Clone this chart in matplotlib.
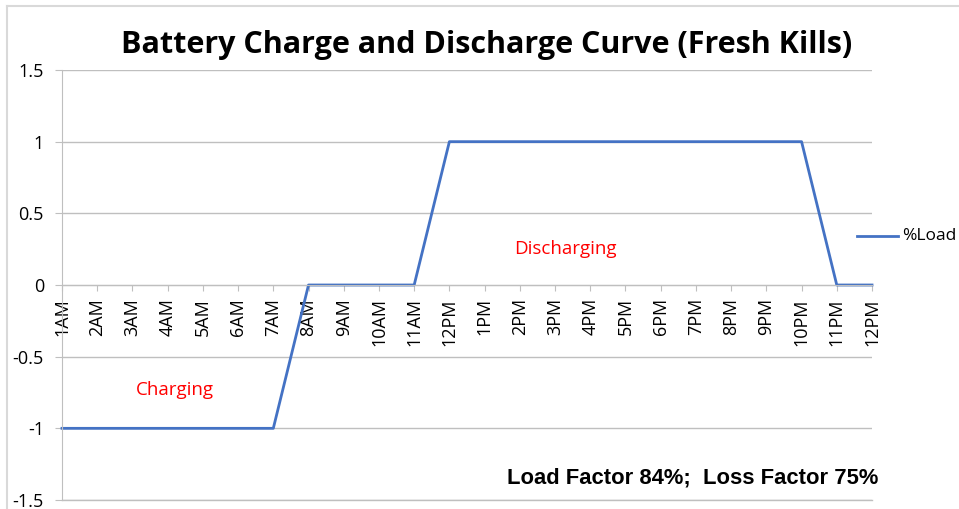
import matplotlib.pyplot as plt
from matplotlib.lines import Line2D
import numpy as np

# %% Dados
horas = ['1AM', '2AM', '3AM', '4AM', '5AM', '6AM', '7AM', '8AM', '9AM', '10AM', '11AM', '12PM',
         '1PM', '2PM', '3PM', '4PM', '5PM', '6PM', '7PM', '8PM', '9PM', '10PM', '11PM', '12PM']
carga = [-1, -1, -1, -1, -1, -1, -1, 0, 0, 0, 0, 1,
         1, 1, 1, 1, 1, 1, 1, 1, 1, 1, 0, 0]
y_ticks = [-1.5, -1, -0.5, 0, 0.5, 1, 1.5]
y_labels = ['-1.5', '-1', '-0.5', '0', '0.5', '1', '1.5']

plt.rcParams['font.family'] = ['Open Sans', 'DejaVu Sans']
cinza = '#BFBFBF'

# %% Figura
fig = plt.figure(figsize=(9.59, 5.09), dpi=100)
ax = fig.add_axes([62/959, 1 - 500/509, 810/959, 430/509])

x = np.arange(len(horas))
ax.plot(x, carga, color='#4472C4', linewidth=2, label='%Load', clip_on=False)

ax.set_xlim(0, len(horas) - 1)
ax.set_ylim(-1.5, 1.5)
ax.set_yticks(y_ticks)
ax.set_yticklabels(y_labels)
ax.set_xticks(x)
ax.set_xticklabels(horas)

ax.grid(axis='y', color=cinza, linewidth=1)
ax.set_axisbelow(True)
for s in ['top', 'right']:
    ax.spines[s].set_visible(False)
ax.spines['bottom'].set_position(('data', 0))
ax.spines['bottom'].set_color(cinza)
ax.spines['left'].set_color(cinza)
ax.tick_params(axis='x', direction='out', length=4.5, color=cinza, pad=5,
               labelrotation=90, labelsize=13)
ax.tick_params(axis='y', direction='out', length=5, color=cinza, pad=8, labelsize=13)

# linha da base a -1.5
ax.axhline(-1.5, color=cinza, linewidth=1, clip_on=False)

# %% Textos
fig.text(487/959, 1 - 45/509, 'Battery Charge and Discharge Curve (Fresh Kills)',
         ha='center', va='center', fontsize=22, fontweight='bold')
ax.text(14.3, 0.25, 'Discharging', color='red', fontsize=13.5, ha='center', va='center')
ax.text(3.2, -0.73, 'Charging', color='red', fontsize=13.5, ha='center', va='center')
fig.text(878/959, 1 - 478/509, 'Load Factor 84%;  Loss Factor 75%', ha='right', va='center',
         fontsize=15.8, fontweight='bold', family='Liberation Sans')

# legenda
fig.add_artist(Line2D([857/959, 898/959], [1 - 236/509, 1 - 236/509], color='#4472C4', linewidth=2))
fig.text(902/959, 1 - 236/509, '%Load', ha='left', va='center', fontsize=12.5)

# moldura do gráfico
fig.add_artist(Line2D([7/959, 1], [1 - 6/509, 1 - 6/509], color='#D9D9D9', linewidth=1.5))
fig.add_artist(Line2D([7/959, 7/959], [0, 1 - 6/509], color='#D9D9D9', linewidth=1.5))

fig.savefig('out.png', dpi=100)
